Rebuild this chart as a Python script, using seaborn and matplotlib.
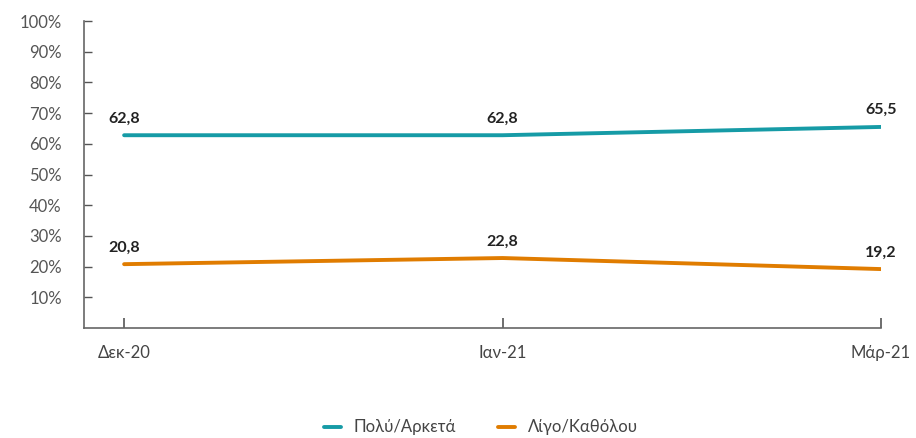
import matplotlib
matplotlib.use("Agg")
import matplotlib.pyplot as plt
import seaborn as sns
import pandas as pd
from matplotlib.lines import Line2D

categories = ["Δεκ-20", "Ιαν-21", "Μάρ-21"]
series_names = ["Πολύ/Αρκετά", "Λίγο/Καθόλου"]
polu = [62.8, 62.8, 65.5]
ligo = [20.8, 22.8, 19.2]
yticks = [10, 20, 30, 40, 50, 60, 70, 80, 90, 100]
colors = ["#169BA6", "#E07C00"]

sns.set_style("white")
plt.rcParams['font.family'] = ['Lato', 'DejaVu Sans']

df = pd.DataFrame({
    "x": list(range(len(categories))) * 2,
    "value": polu + ligo,
    "series": [series_names[0]] * 3 + [series_names[1]] * 3,
})

fig = plt.figure(figsize=(9.16, 4.38), dpi=100)
ax = fig.add_axes([0.0917, 0.2511, 0.9618 - 0.0917, 0.952 - 0.2511])
sns.lineplot(data=df, x="x", y="value", hue="series", palette=colors,
             linewidth=2.8, ax=ax, legend=False)

for vals in (polu, ligo):
    for i, v in enumerate(vals):
        ax.annotate(f"{v:.1f}".replace(".", ","), (i, v), xytext=(0, 7),
                    textcoords="offset points", ha="center", va="bottom",
                    fontsize=11.5, fontweight="bold", color="#222222")

ax.set_xlim(-0.106, 2.0)
ax.set_ylim(0, 100)
ax.set_xticks(range(len(categories)))
ax.set_xticklabels(categories)
ax.set_yticks(yticks)
ax.set_yticklabels([f"{t}%" for t in yticks])
ax.set_xlabel("")
ax.set_ylabel("")
for s in ["top", "right"]:
    ax.spines[s].set_visible(False)
for s in ["left", "bottom"]:
    ax.spines[s].set_color("#666666")
    ax.spines[s].set_linewidth(1.2)
ax.tick_params(axis="y", left=True, direction="in", length=6, width=1, color="#555555",
               labelsize=12, labelcolor="#555555", pad=16)
ax.tick_params(axis="x", bottom=True, direction="in", length=7, width=1.2, color="#555555",
               labelsize=12, labelcolor="#444444", pad=12)

handles = [Line2D([0], [0], color=c, lw=2.8) for c in colors]
fig.legend(handles, series_names, loc="center", bbox_to_anchor=(0.525, 0.024),
           ncol=2, frameon=False, fontsize=12, handlelength=1.0,
           columnspacing=2.5, handletextpad=0.8, labelcolor="#444444")

fig.savefig("out.png", dpi=100)
